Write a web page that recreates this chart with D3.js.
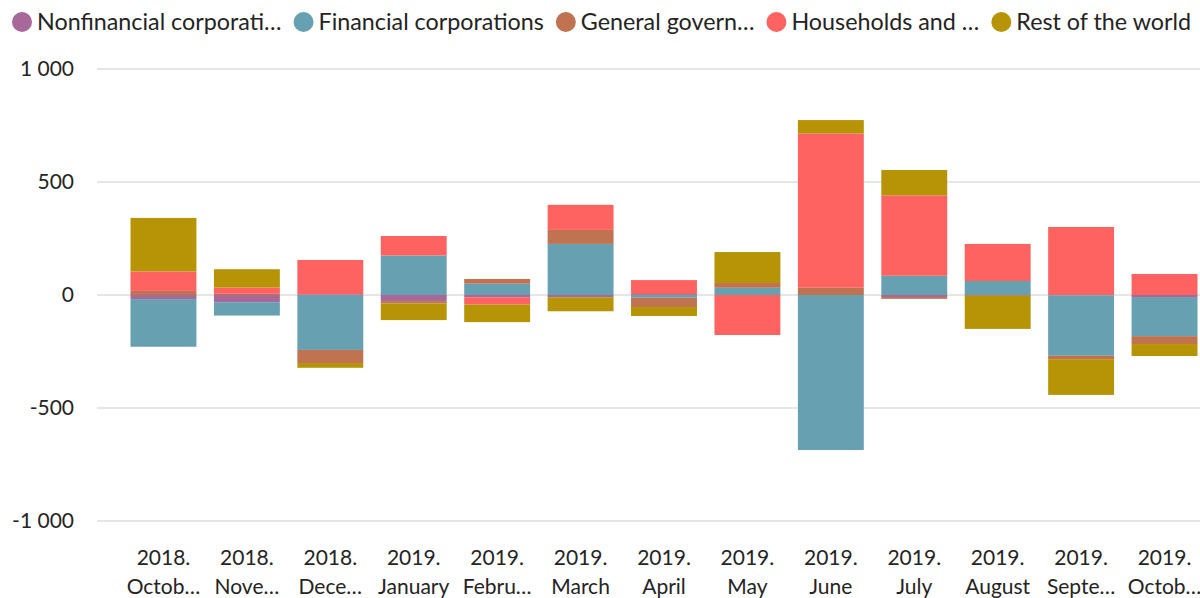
<!DOCTYPE html>
<html>
<head>
<meta charset="utf-8">
<script src="https://cdn.jsdelivr.net/npm/d3@7"></script>
<style>
  html, body { margin: 0; padding: 0; background: #fff; }
  svg { display: block; }
  text { font-family: Lato, "Open Sans", sans-serif; fill: #252423; }
</style>
</head>
<body>
<svg id="chart" width="1200" height="598"></svg>
<script>
// ---- data ----
const years = ["2018.", "2018.", "2018.", "2019.", "2019.", "2019.", "2019.", "2019.", "2019.", "2019.", "2019.", "2019.", "2019."];
const monthLabels = ["Octob…", "Nove…", "Dece…", "January", "Febru…", "March", "April", "May", "June", "July", "August", "Septe…", "Octob…"];
const seriesNames = ["Nonfinancial corporati…", "Financial corporations", "General govern…", "Households and …", "Rest of the world"];
const nonfinancial = [-18, -32, 3, -27, -10, -10, 4, 0, 0, -9, 0, -1, -9];
const financial    = [-211, -59, -243, 175, 50, 226, -12, 32, -686, 85, 62, -268, -173];
const government   = [18, 5, -58, -10, 21, 62, -41, 21, 32, -8, -4, -15, -35];
const households   = [86, 28, 152, 86, -32, 111, 62, -177, 683, 356, 164, 301, 93];
const restOfWorld  = [237, 81, -21, -74, -78, -62, -40, 137, 59, 112, -146, -158, -53];
const yTicks = [-1000, -500, 0, 500, 1000];
const colors = ["#A66999", "#67A0B1", "#BF7350", "#FF6361", "#B69405"];

// ---- build table ----
const keys = ["nonfinancial", "financial", "government", "households", "restOfWorld"];
const valuesByKey = { nonfinancial, financial, government, households, restOfWorld };
const table = years.map((y, i) => {
  const row = { id: i };
  keys.forEach(k => row[k] = valuesByKey[k][i]);
  return row;
});

const svg = d3.select("#chart");

const x = d3.scaleBand()
  .domain(table.map(d => d.id))
  .range([113, 1215])
  .paddingInner(0.21)
  .paddingOuter(0.21);

const y = d3.scaleLinear().domain([-1000, 1000]).range([521, 69]);

const locale = d3.formatLocale({ decimal: ".", thousands: " ", grouping: [3], currency: ["", ""], minus: "-" });
const fmt = locale.format(",");

// gridlines
svg.append("g")
  .selectAll("line")
  .data(yTicks)
  .join("line")
  .attr("x1", 97).attr("x2", 1200)
  .attr("y1", d => y(d)).attr("y2", d => y(d))
  .attr("stroke", "#e6e6e6").attr("stroke-width", 2);

// y axis labels
const yAxis = d3.axisLeft(y).tickValues(yTicks).tickFormat(fmt).tickSize(0).tickPadding(0);
const gy = svg.append("g").attr("transform", "translate(74,0)").call(yAxis);
gy.select(".domain").remove();
gy.selectAll("text").style("font-family", "Lato, sans-serif").style("font-size", "21px").attr("fill", "#252423");

// stacked bars
const stack = d3.stack().keys(keys).offset(d3.stackOffsetDiverging);
const stacked = stack(table);

svg.append("g")
  .selectAll("g")
  .data(stacked)
  .join("g")
  .attr("fill", (d, i) => colors[i])
  .selectAll("rect")
  .data(d => d)
  .join("rect")
  .attr("x", d => x(d.data.id))
  .attr("width", x.bandwidth())
  .attr("y", d => y(Math.max(d[0], d[1])))
  .attr("height", d => Math.abs(y(d[0]) - y(d[1])));

// x axis labels (two lines)
const gx = svg.append("g");
const lab = gx.selectAll("text")
  .data(table)
  .join("text")
  .attr("text-anchor", "middle")
  .style("font-size", "21px")
  .attr("x", d => x(d.id) + x.bandwidth() / 2);
lab.append("tspan").attr("x", d => x(d.id) + x.bandwidth() / 2).attr("y", 565).text(d => years[d.id]);
lab.append("tspan").attr("x", d => x(d.id) + x.bandwidth() / 2).attr("y", 594).text(d => monthLabels[d.id]);

// legend
const legend = svg.append("g");
let cx = 22;
seriesNames.forEach((name, i) => {
  legend.append("circle").attr("cx", cx).attr("cy", 22).attr("r", 10).attr("fill", colors[i]);
  const t = legend.append("text").attr("x", cx + 15).attr("y", 30)
    .style("font-size", "23.3px").text(name);
  const w = t.node().getComputedTextLength();
  cx = cx + 15 + w + 22;
});
</script>
</body>
</html>
